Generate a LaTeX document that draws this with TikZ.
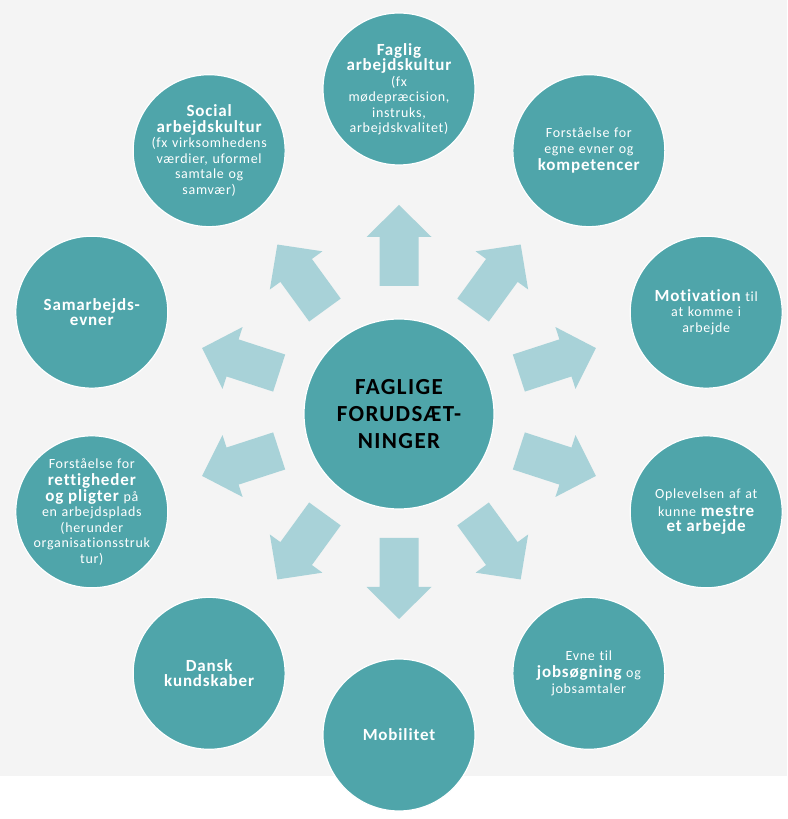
\documentclass[tikz,border=0pt]{standalone}
\usepackage{fontspec}
\setmainfont[LetterSpace=5, Ligatures=NoCommon]{Carlito}
\newfontfamily\hubfont[LetterSpace=6, Ligatures=NoCommon]{Carlito}
\usetikzlibrary{positioning, calc}

\definecolor{ringteal}{HTML}{4FA5AA}
\definecolor{arrowblue}{HTML}{A8D2D8}
\definecolor{bggray}{HTML}{F4F4F4}

\newcommand{\hd}[1]{{\fontsize{17}{20}\selectfont\bfseries\addfontfeatures{LetterSpace=5}#1}}

\begin{document}
\begin{tikzpicture}[x=1pt, y=1pt,
  outer/.style={circle, draw=white, line width=1.2pt, fill=ringteal, minimum size=152pt, inner sep=-10pt,
    text width=128pt, align=center, text=white, font=\fontsize{14}{15.5}\selectfont},
  hub/.style={circle, draw=white, line width=1.2pt, fill=ringteal, minimum size=190pt, inner sep=0pt,
    align=center, font=\hubfont\fontsize{23}{27}\selectfont\bfseries},
  blockarrow/.style={fill=arrowblue}]
  % page and grey backdrop
  \useasboundingbox (0,0) rectangle (787,819);
  \fill[bggray] (0,43) rectangle (787,819);

  \coordinate (c) at (399,407);

  % ten block arrows pointing outwards
  \foreach \ang in {90,54,18,-18,-54,-90,-126,-162,162,126}
    \fill[blockarrow, shift={(c)}, rotate=\ang] (126,-19.5) -- (175,-19.5) -- (175,-32.5) -- (207,0)
      -- (175,32.5) -- (175,19.5) -- (126,19.5) -- cycle;

  % centre circle
  \node[hub] (core) at ([yshift=-2]c) {FAGLIGE\\FORUDSÆT-\\NINGER};

  % ring of circles, clockwise from the top
  \node[outer] (faglig) at ([shift={(90:323)}]c) {\hd{Faglig}\\\hd{arbejdskultur}\\(fx\\mødepræcision,\\instruks,\\arbejdskvalitet)};
  \node[outer] (kompetencer) at ([shift={(54:323)}]c) {Forståelse for\\egne evner og\\[2pt]\hd{kompetencer}};
  \node[outer] (motivation) at ([shift={(18:323)}]c) {\hd{Motivation} til\\at komme i\\arbejde};
  \node[outer] (mestre) at ([shift={(-18:323)}]c) {Oplevelsen af at\\[2pt]kunne \hd{mestre}\\\hd{et arbejde}};
  \node[outer] (jobsoegning) at ([shift={(-54:323)}]c) {Evne til\\[2pt]\hd{jobsøgning} og\\jobsamtaler};
  \node[outer] (mobilitet) at ([shift={(-90:323)}]c) {\hd{Mobilitet}};
  \node[outer] (dansk) at ([shift={(-126:323)}]c) {\hd{Dansk}\\\hd{kundskaber}};
  \node[outer] (rettigheder) at ([shift={(-162:323)}]c) {Forståelse for\\[2pt]\hd{rettigheder}\\\hd{og pligter} på\\en arbejdsplads\\(herunder\\organisationsstruk\\tur)};
  \node[outer] (samarbejde) at ([shift={(162:323)}]c) {\hd{Samarbejds-}\\\hd{evner}};
  \node[outer] (social) at ([shift={(126:323)}]c) {\hd{Social}\\\hd{arbejdskultur}\\(fx virksomhedens\\værdier, uformel\\samtale og\\samvær)};
\end{tikzpicture}
\end{document}
